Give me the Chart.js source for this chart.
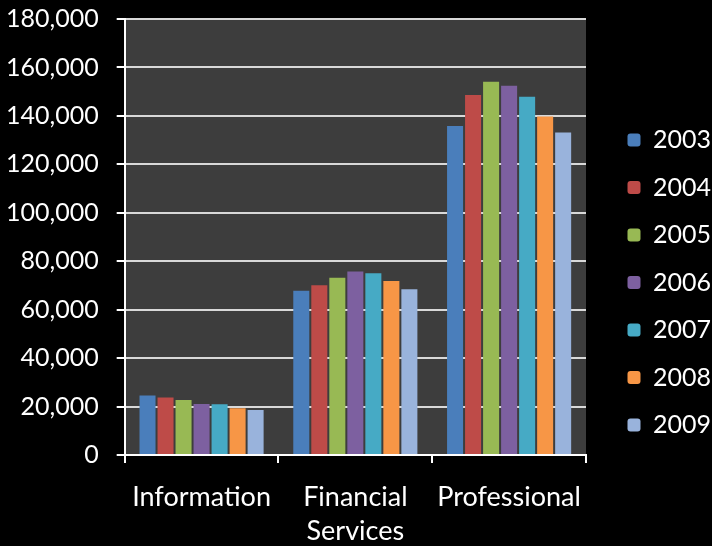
<!doctype html>
<html>
  <head>
    <meta charset="UTF-8">
    <script src="https://cdn.jsdelivr.net/npm/chart.js"></script>
    <style>
      html, body { margin: 0; padding: 0; background: #000; }
      #wrap { position: relative; width: 712px; height: 546px; }
    </style>
  </head>
  <body>
    <div id="wrap"><canvas id="chart"></canvas></div>
    <script>
      const categories = ['Information', ['Financial', 'Services'], 'Professional'];
      const years = ['2003', '2004', '2005', '2006', '2007', '2008', '2009'];
      const colors = ['#4a7ebb', '#be4b48', '#98b954', '#7d60a0', '#46aac5', '#f79646', '#99b3dc'];

      const v2003 = [24500, 67800, 135800];
      const v2004 = [23700, 70100, 148600];
      const v2005 = [22700, 73200, 154100];
      const v2006 = [21000, 75700, 152400];
      const v2007 = [20900, 75000, 147900];
      const v2008 = [19300, 71800, 139700];
      const v2009 = [18600, 68400, 133100];
      const series = [v2003, v2004, v2005, v2006, v2007, v2008, v2009];

      const yTicks = [0, 20000, 40000, 60000, 80000, 100000, 120000, 140000, 160000, 180000];

      const font = { family: 'Lato', size: 25 };

      // plot area fill
      const plotBg = {
        id: 'plotBg',
        beforeDraw(chart) {
          const { ctx, chartArea: a } = chart;
          ctx.save();
          ctx.fillStyle = '#3d3d3d';
          ctx.fillRect(a.left, a.top, a.right - a.left, a.bottom - a.top);
          ctx.restore();
        }
      };

      // room between plot and legend, and legend nudged into place
      const legendGap = {
        id: 'legendGap',
        beforeInit(chart) {
          const fit = chart.legend.fit;
          chart.legend.fit = function () {
            fit.bind(chart.legend)();
            this.width += 10;
          };
        },
        afterLayout(chart) {
          chart.legend.left += 19;
          chart.legend.top += 19;
        }
      };

      new Chart(document.getElementById('chart'), {
        type: 'bar',
        data: {
          labels: categories,
          datasets: years.map((y, i) => ({
            label: y,
            data: series[i],
            backgroundColor: colors[i],
            borderWidth: 0,
            barPercentage: 0.89,
            categoryPercentage: 0.82
          }))
        },
        options: {
          responsive: true,
          maintainAspectRatio: false,
          animation: false,
          layout: { padding: 0 },
          scales: {
            x: {
              afterFit(scale) { scale.height -= 19; },
              grid: { display: true, drawOnChartArea: false, color: '#ffffff', lineWidth: 2, tickLength: 8 },
              border: { color: '#ffffff', width: 2 },
              ticks: { color: '#ffffff', font: { family: 'Lato', size: 27, lineHeight: 1.26 }, padding: 17, maxRotation: 0 }
            },
            y: {
              min: 0,
              max: 180000,
              afterFit(scale) {
                scale.width -= 12;
                scale.paddingTop = 19;
                scale.paddingBottom = 0;
              },
              afterBuildTicks(scale) {
                scale.ticks = yTicks.map(v => ({ value: v }));
              },
              grid: { color: '#d9d9d9', lineWidth: 2, tickLength: 8, tickColor: '#ffffff' },
              border: { color: '#ffffff', width: 2 },
              ticks: {
                color: '#ffffff',
                font,
                padding: 18,
                callback: v => v.toLocaleString('en-US')
              }
            }
          },
          plugins: {
            legend: {
              position: 'right',
              labels: {
                color: '#ffffff',
                font,
                boxWidth: 13,
                boxHeight: 13,
                padding: 22.5,
                useBorderRadius: true,
                borderRadius: 3
              }
            },
            tooltip: { enabled: false }
          }
        },
        plugins: [plotBg, legendGap]
      });
    </script>
  </body>
</html>
